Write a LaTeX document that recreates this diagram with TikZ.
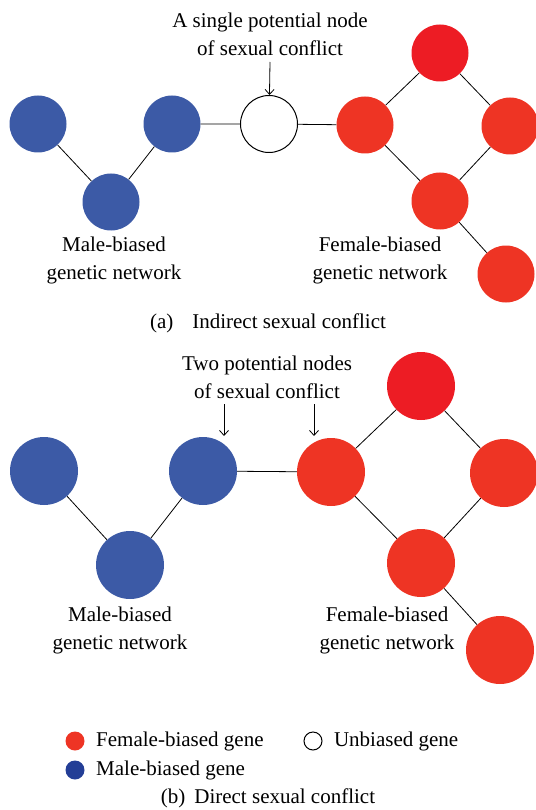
\documentclass[tikz,border=0pt]{standalone}
\usepackage{fontspec}
\setmainfont{Liberation Serif}
\usepackage{tikz}
\usetikzlibrary{arrows.meta}
\definecolor{maschio}{RGB}{60,90,166}
\definecolor{maschioleg}{RGB}{35,62,150}
\definecolor{femmina}{RGB}{238,52,36}
\definecolor{femminatop}{RGB}{237,28,36}
\tikzset{
    gene/.style = {circle, inner sep = 0pt, minimum size = #1},
    maschile/.style = {gene = 57pt, fill = maschio},
    femminile/.style = {gene = 57pt, fill = femmina},
    neutro/.style = {gene = 57pt, draw = black, line width = 1pt, fill = white},
    legame/.style = {line width = 0.8pt},
    freccia/.style = {line width = 0.8pt, -{Straight Barb[length = 5pt, width = 9pt]}},
    testo/.style = {align = center, font = \fontsize{21}{28}\selectfont}
}

\begin{document}
\begin{tikzpicture}[x = 1pt, y = -1pt]
    \useasboundingbox (0,0) rectangle (535,810);
    % (a) Conflitto indiretto
    \node[maschile] (a1) at (38,124) {};
    \node[maschile] (a2) at (172,124) {};
    \node[maschile] (a3) at (111,202) {};
    \node[neutro] (a0) at (269,124) {};
    \node[femminile] (f1) at (365,125) {};
    \node[femminile, fill = femminatop] (f2) at (440,53) {};
    \node[femminile] (f3) at (510,126) {};
    \node[femminile] (f4) at (440,201) {};
    \node[femminile] (f5) at (506,274) {};
    \draw[legame] (a1) -- (a3) -- (a2) -- (a0) -- (f1) -- (f2) -- (f3) -- (f4) -- (f1);
    \draw[legame] (f4) -- (f5);
    \node[testo] (ta) at (270,34) {A single potential node\\of sexual conflict};
    \coordinate (pa) at (270,62);
    \draw[freccia] (pa) -- (a0);
    \node[testo] (ma) at (114,260) {Male-biased\\genetic network};
    \node[testo] (fa) at (380,260) {Female-biased\\genetic network};
    \node[testo] (ca) at (268,323) {(a)\hspace{19pt}Indirect sexual conflict};
    % (b) Conflitto diretto
    \node[maschile, gene = 68pt] (b1) at (44,471) {};
    \node[maschile, gene = 68pt] (b2) at (203,471) {};
    \node[maschile, gene = 68pt] (b3) at (130,565) {};
    \node[femminile, gene = 68pt] (g1) at (331,472) {};
    \node[femminile, gene = 68pt, fill = femminatop] (g2) at (421,386) {};
    \node[femminile, gene = 68pt] (g3) at (504,473) {};
    \node[femminile, gene = 68pt] (g4) at (421,563) {};
    \node[femminile, gene = 68pt] (g5) at (500,650) {};
    \draw[legame] (b1) -- (b3) -- (b2) -- (g1) -- (g2) -- (g3) -- (g4) -- (g1);
    \draw[legame] (g4) -- (g5);
    \node[testo] (tb) at (267,377) {Two potential nodes\\of sexual conflict};
    \coordinate (pb1) at (224,404);
    \coordinate (qb1) at (224,436);
    \coordinate (pb2) at (314,404);
    \coordinate (qb2) at (314,436);
    \draw[freccia] (pb1) -- (qb1);
    \draw[freccia] (pb2) -- (qb2);
    \node[testo] (mb) at (120,630) {Male-biased\\genetic network};
    \node[testo] (fb) at (387,630) {Female-biased\\genetic network};
    % Legenda
    \node[gene = 19pt, fill = femmina] (lf) at (75,741) {};
    \node[testo, anchor = west] (lft) at (lf.east) [xshift = 8pt] {Female-biased gene};
    \node[gene = 19pt, fill = maschioleg] (lm) at (75,770) {};
    \node[testo, anchor = west] (lmt) at (lm.east) [xshift = 8pt] {Male-biased gene};
    \node[gene = 18pt, draw = black, line width = 1pt] (ln) at (313,741) {};
    \node[testo, anchor = west] (lnt) at (ln.east) [xshift = 8pt] {Unbiased gene};
    \node[testo] (cb) at (268,798) {(b)\hspace{9pt}Direct sexual conflict};
\end{tikzpicture}
\end{document}
